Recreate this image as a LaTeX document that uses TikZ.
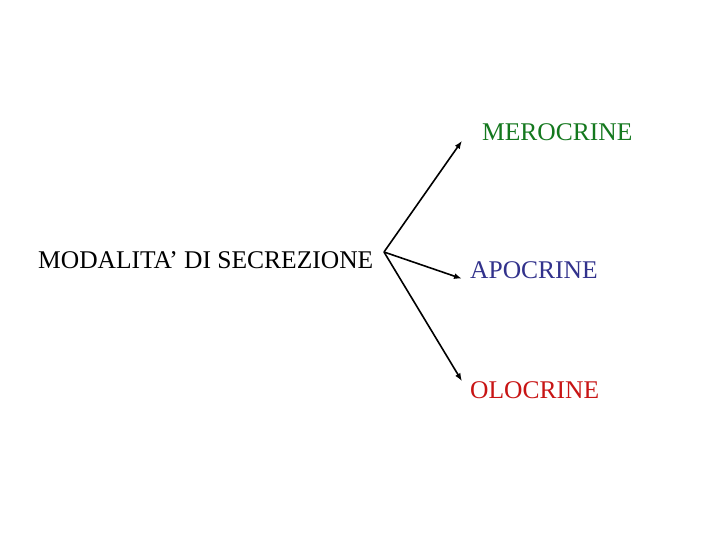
\documentclass[tikz,border=0pt]{standalone}
\usepackage{fontspec}
\setmainfont{Liberation Serif}
\usetikzlibrary{arrows.meta}
\definecolor{merogreen}{RGB}{20,120,30}
\definecolor{apoblue}{RGB}{50,50,140}
\definecolor{olored}{RGB}{200,20,20}
\tikzset{
  label/.style={inner sep=0pt, anchor=west, font=\fontsize{25.5}{28}\selectfont},
  arr/.style={line width=1.6pt, -{Latex[length=8pt,width=6pt]}}
}
\begin{document}
\begin{tikzpicture}[x=1pt,y=-1pt]
        \useasboundingbox[fill=white] (0,0) rectangle (720,540); % page
        \node[label] (mod) at (38,260) {MODALITA' DI SECREZIONE}; % main term
        \node[label, text=merogreen] (mero) at (482,132) {MEROCRINE}; % top
        \node[label, text=apoblue] (apo) at (470,270) {APOCRINE}; % middle
        \node[label, text=olored] (olo) at (470,390) {OLOCRINE}; % bottom
        \coordinate (fork) at (384,252); % where the arrows start
        \draw[arr] (fork) -- ([xshift=-20pt]mero.south west);
        \draw[arr] (fork) -- ([xshift=-8pt]apo.south west);
        \draw[arr] (fork) -- ([xshift=-8pt]olo.north west);
\end{tikzpicture}
\end{document}
